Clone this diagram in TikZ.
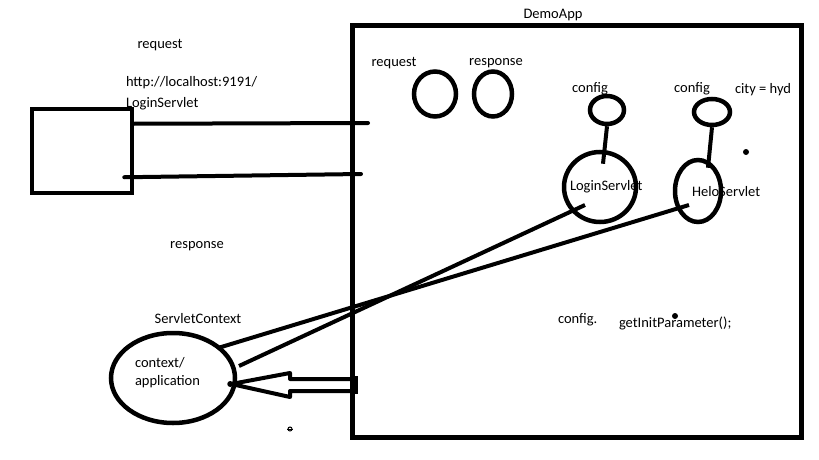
\documentclass[tikz,border=0pt]{standalone}
\usepackage{fontspec}
\setmainfont{Carlito}
\usetikzlibrary{shapes,positioning,calc}

\begin{document}
\begin{tikzpicture}[x=1pt, y=-1pt, line width=4pt,
    lbl/.style={font=\fontsize{14.5}{18}\selectfont, inner sep=0pt},
    oval/.style={ellipse, draw, line width=4.5pt, inner sep=0pt}]
    \useasboundingbox (0,0) rectangle (819,460);

    % client and app
    \node[draw, line width=4.5pt, minimum width=100pt, minimum height=84pt, inner sep=0pt] (client) at (82,151) {};
    \draw[line width=5pt] (352,26) rectangle (801,437);
    \node[lbl] (appname) at (553,15) {DemoApp};

    % request / response lines
    \draw[line cap=round] ($(client.north east)+(0,17)$) -- (368,123);
    \draw[line cap=round] ($(client.south east)+(-10,-18)$) -- (361,174);
    \node[lbl] (reqtxt) at (160,45) {request};
    \node[lbl, anchor=west] (url) at (124,83) {http://localhost:9191/};
    \node[lbl, anchor=west, below=4pt of url.south west, anchor=north west] (urlpath) {LoginServlet};
    \node[lbl] (resptxt) at (197,246) {response};

    % objects inside the app
    \node[lbl] (reqobj) at (394,63) {request};
    \node[lbl] (respobj) at (496,63) {response};
    \node[oval, minimum width=42pt, minimum height=45pt] (reqc) at (435,94) {};
    \node[oval, minimum width=38pt, minimum height=45pt] (respc) at (493,94) {};

    \node[lbl] (cfgAtxt) at (590,89) {config};
    \node[oval, minimum width=34pt, minimum height=28pt] (cfgA) at (607,110) {};
    \node[oval, minimum width=72pt, minimum height=70pt] (login) at (600,187) {};
    \node[lbl, anchor=west] (logintxt) at (568,187) {LoginServlet};
    \draw (cfgA.south) -- ($(login.north)+(3,14)$);

    \node[lbl] (cfgBtxt) at (692,89) {config};
    \node[lbl, anchor=west] (city) at (733,90) {city = hyd};
    \node[oval, minimum width=36pt, minimum height=26pt] (cfgB) at (712,112) {};
    \node[oval, minimum width=46pt, minimum height=62pt] (helo) at (698,191) {};
    \node[lbl, anchor=west] (helotxt) at (690,192) {HeloServlet};
    \draw (cfgB.south) -- ($(helo.north)+(10,10)$);
    \fill (746,152) circle (3);

    \node[lbl, anchor=west] (cfgcall) at (556,320) {config.};
    \node[lbl, anchor=west] (initparam) at (617,323) {getInitParameter();};
    \fill (675,316) circle (3);

    % servlet context
    \node[lbl] (ctxtxt) at (198,319) {ServletContext};
    \node[oval, minimum width=124pt, minimum height=90pt] (ctx) at (173,378) {};
    \node[lbl, anchor=west] (ctxa) at (133,363) {context/};
    \node[lbl, anchor=west] (ctxb) at (133,382) {application};

    \draw ($(login)+(-15,18)$) -- ($(ctx)+(66,-12)$);
    \draw ($(helo)+(-9,14)$) -- ($(ctx)+(45,-30)$);

    % hollow arrow into the context
    \draw[line width=4pt, line join=round]
        (357,379) -- (290,379) -- (290,373) -- ($(ctx.east)+(-6,6)$)
        -- (290,397) -- (290,391) -- (357,391);
    \fill (351,376) rectangle (358,394);
    \fill ($(ctx.east)+(-7,6)$) circle (3);

    \draw[line width=1pt] (290,429) circle (2);
    \draw[line width=1pt] (287,429) -- (293,429);
\end{tikzpicture}
\end{document}
